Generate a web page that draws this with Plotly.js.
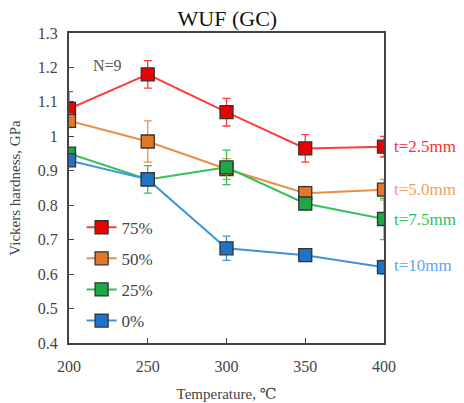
<!DOCTYPE html>
<html><head><meta charset="utf-8">
<script src="https://cdn.plot.ly/plotly-3.0.1.min.js"></script>
<style>html,body{margin:0;padding:0;background:#fff}#chart{width:464px;height:403px}</style>
</head><body><div id="chart"></div>
<script>
var temps = [200, 250, 300, 350, 400];
var names = ['75%', '50%', '25%', '0%'];
var labels = ['t=2.5mm', 't=5.0mm', 't=7.5mm', 't=10mm'];
var h75 = [1.08, 1.18, 1.07, 0.965, 0.97];
var e75 = [0.05, 0.04, 0.04, 0.04, 0.03];
var h50 = [1.045, 0.985, 0.905, 0.835, 0.845];
var e50 = [0.02, 0.06, 0.03, 0.02, 0.03];
var h25 = [0.95, 0.875, 0.91, 0.805, 0.76];
var e25 = [0.01, 0.04, 0.05, 0.01, 0.06];
var h0 = [0.93, 0.875, 0.675, 0.655, 0.62];
var e0 = [0.01, 0.01, 0.035, 0.01, 0.02];
var yTicks = [0.4, 0.5, 0.6, 0.7, 0.8, 0.9, 1, 1.1, 1.2, 1.3];
var yTickText = ['0.4', '0.5', '0.6', '0.7', '0.8', '0.9', '1', '1.1', '1.2', '1.3'];

var FONT = 'Times New Roman, Liberation Serif, DejaVu Serif, serif';
var series = [h75, h50, h25, h0];
var errs = [e75, e50, e25, e0];
var lineColors = ['#ff3b3b', '#ec8e45', '#35c05a', '#3d93dc'];
var markColors = ['#ee0000', '#e07a2a', '#1fa646', '#1f74c8'];
var labelColors = ['#ff3030', '#f0a060', '#30c060', '#60a8e8'];

var traces = series.map(function (ys, i) {
  return {
    x: temps, y: ys, name: names[i], type: 'scatter', mode: 'lines+markers',
    legendgroup: 'g' + i,
    line: {color: lineColors[i], width: 2},
    marker: {symbol: 'square', size: 13, color: markColors[i], line: {color: '#333', width: 1.3}},
    error_y: {type: 'data', array: errs[i], visible: true, color: lineColors[i], thickness: 1.3, width: 4}
  };
});

var ann = [{x: 0.07, y: 0.93, xref: 'paper', yref: 'paper', text: 'N=9', showarrow: false,
  xanchor: 'left', font: {family: FONT, size: 16, color: '#555'}}];
series.forEach(function (ys, i) {
  ann.push({x: temps[temps.length - 1], y: ys[ys.length - 1], xref: 'x', yref: 'y', text: labels[i],
    showarrow: false, xanchor: 'left', xshift: 8, yshift: (i === 3 ? 2 : 0),
    font: {family: FONT, size: 17, color: labelColors[i]}});
});

var layout = {
  width: 464, height: 403,
  margin: {l: 69, r: 80, t: 33, b: 60},
  paper_bgcolor: '#fff', plot_bgcolor: '#fff',
  title: {text: 'WUF (GC)', x: 0.49, xanchor: 'center', y: 0.955, yanchor: 'middle',
    font: {family: FONT, size: 22, color: '#111'}},
  xaxis: {range: [200, 400], tickvals: temps, ticks: 'inside', ticklen: 5, tickcolor: '#444',
    showline: true, linecolor: '#444', linewidth: 2, mirror: true, showgrid: false, zeroline: false,
    ticklabelstandoff: 8,
    tickfont: {family: FONT, size: 16, color: '#444'},
    title: {text: 'Temperature, ℃', standoff: 14, font: {family: FONT, size: 15, color: '#444'}}},
  yaxis: {range: [0.4, 1.3], tickvals: yTicks, ticktext: yTickText, ticks: 'inside', ticklen: 5, tickcolor: '#444',
    showline: true, linecolor: '#444', linewidth: 2, mirror: true, showgrid: false, zeroline: false,
    ticklabelstandoff: 6,
    tickfont: {family: FONT, size: 16, color: '#444'},
    title: {text: 'Vickers hardness, GPa', standoff: 14, font: {family: FONT, size: 15, color: '#444'}}},
  showlegend: true,
  legend: {x: 0.04, y: 0.43, xanchor: 'left', yanchor: 'top', bgcolor: 'rgba(0,0,0,0)',
    tracegroupgap: 6, itemwidth: 30,
    font: {family: FONT, size: 17, color: '#444'}},
  annotations: ann
};
Plotly.newPlot('chart', traces, layout, {displayModeBar: false});
</script></body></html>
